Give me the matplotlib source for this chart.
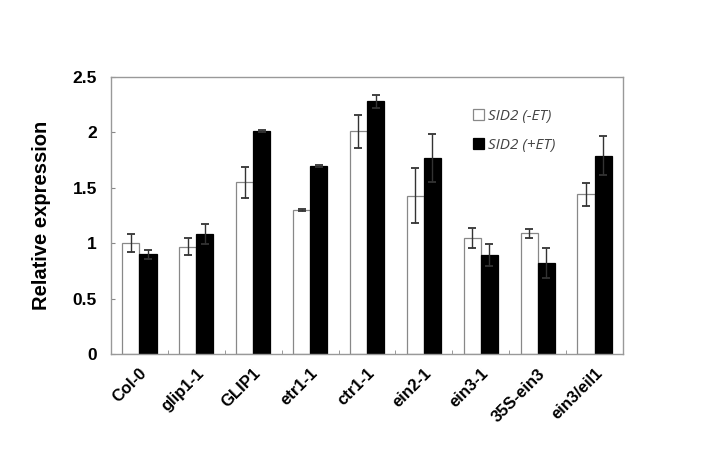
import numpy as np
import matplotlib
matplotlib.use('Agg')
import matplotlib.pyplot as plt

genotypes = ['Col-0', 'glip1-1', 'GLIP1', 'etr1-1', 'ctr1-1', 'ein2-1',
             'ein3-1', '35S-ein3', 'ein3/eil1']
minus_et = [1.00, 0.97, 1.55, 1.30, 2.01, 1.43, 1.05, 1.09, 1.44]
minus_et_err = [0.08, 0.08, 0.14, 0.01, 0.15, 0.25, 0.09, 0.04, 0.10]
plus_et = [0.90, 1.08, 2.01, 1.70, 2.28, 1.77, 0.89, 0.82, 1.79]
plus_et_err = [0.04, 0.09, 0.01, 0.01, 0.06, 0.22, 0.10, 0.135, 0.175]

plt.rcParams['font.family'] = ['Liberation Sans', 'DejaVu Sans']

fig = plt.figure(figsize=(7.09, 4.72), dpi=100)
ax = fig.add_axes([111 / 709, 1 - 354 / 472, 512 / 709, 277 / 472])

x = np.arange(len(genotypes))
w = 0.3
err_kw = dict(ecolor='#333333', elinewidth=1.0, capsize=3, capthick=1.3)
ax.bar(x - w / 2, minus_et, w, yerr=minus_et_err, color='white',
       edgecolor='#888888', linewidth=0.9, error_kw=err_kw, label='SID2 (-ET)')
ax.bar(x + w / 2, plus_et, w, yerr=plus_et_err, color='black',
       edgecolor='black', linewidth=0.9, error_kw=err_kw, label='SID2 (+ET)')

ax.set_xlim(-0.5, len(genotypes) - 0.5)
ax.set_ylim(0, 2.5)
ax.set_yticks([0, 0.5, 1, 1.5, 2, 2.5])
ax.set_yticklabels(['0', '0.5', '1', '1.5', '2', '2.5'], fontweight='bold', fontsize=12.5)
ax.set_xticks(x)
ax.set_xticklabels(genotypes, rotation=45, ha='right', rotation_mode='anchor',
                   fontweight='bold', fontsize=12)
ax.set_xticks(np.arange(len(genotypes) + 1) - 0.5, minor=True)
ax.tick_params(axis='x', which='major', length=0, pad=8.5)
ax.tick_params(axis='x', which='minor', direction='in', length=3, color='#888888')
ax.tick_params(axis='y', direction='in', length=3, color='#888888', pad=10)

for s in ax.spines.values():
    s.set_color('#999999')
    s.set_linewidth(1.0)

ax.set_ylabel('Relative expression', fontweight='bold', fontsize=14.5, labelpad=16)

leg = ax.legend(loc='upper left', bbox_to_anchor=(0.68, 0.935), frameon=False,
                handlelength=0.7, handleheight=0.7, handletextpad=0.3,
                labelspacing=0.9, prop={'family': 'Open Sans', 'style': 'italic', 'size': 11})
for t in leg.get_texts():
    t.set_color('#444444')

fig.savefig('out.png', dpi=100)
